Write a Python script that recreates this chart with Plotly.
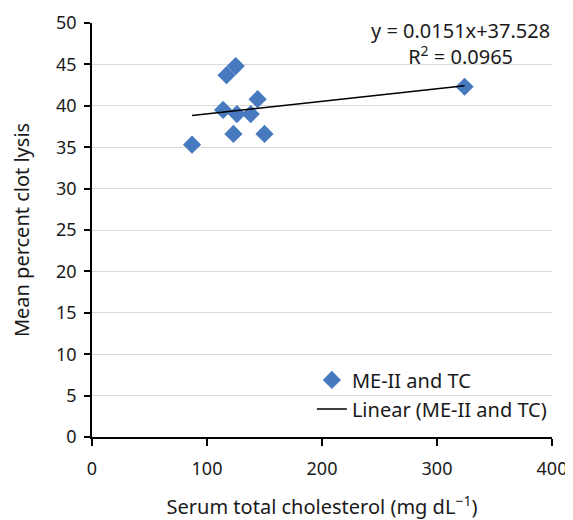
import plotly.graph_objects as go

cholesterol = [87, 117, 125, 114, 126, 138, 144, 123, 150, 324]
clot_lysis = [35.3, 43.7, 44.8, 39.5, 39.0, 39.0, 40.8, 36.6, 36.6, 42.3]
slope = 0.0151
intercept = 37.528
r_squared = 0.0965

series_name = "ME-II and TC"
x_ticks = [0, 100, 200, 300, 400]
y_ticks = list(range(0, 51, 5))

x_min, x_max = min(cholesterol), max(cholesterol)
trend_x = [x_min, x_max]
trend_y = [slope * v + intercept for v in trend_x]

FONT = "Noto Sans, Open Sans, sans-serif"
BLUE = "#4779BF"
TXT = "#1a1a1a"

fig = go.Figure()
fig.add_trace(go.Scatter(
    x=cholesterol, y=clot_lysis, mode="markers", name=series_name,
    marker=dict(symbol="diamond", size=14, color=BLUE, line=dict(width=0)),
))
fig.add_trace(go.Scatter(
    x=trend_x, y=trend_y, mode="lines", name=f"Linear ({series_name})",
    line=dict(color="black", width=1.5),
))

fig.add_annotation(
    x=320, y=47.5, xref="x", yref="y",
    text=f"y = {slope}x+{intercept}<br>R<sup>2</sup> = {r_squared}",
    showarrow=False, align="center",
    font=dict(family=FONT, size=20, color=TXT),
)

# page body has an 8px margin, so the figure is sized/offset to compensate
fig.update_layout(
    width=565, height=512,
    margin=dict(l=84, r=21, t=15, b=83, autoexpand=False),
    paper_bgcolor="white", plot_bgcolor="white",
    font=dict(family=FONT, size=18, color=TXT),
    legend=dict(x=0.478, y=0.185, xanchor="left", yanchor="top",
                bgcolor="rgba(0,0,0,0)", font=dict(size=20),
                tracegroupgap=0),
    showlegend=True,
)
fig.update_xaxes(
    range=[0, 400], tickvals=x_ticks, showgrid=False, zeroline=False,
    showline=True, linecolor="black", linewidth=1.5, automargin=False,
    ticks="outside", ticklen=7, tickcolor="black", tickwidth=1.5,
    ticklabelstandoff=8,
    title=dict(text="Serum total cholesterol (mg dL<sup>\u22121</sup>)", standoff=24,
               font=dict(size=20)),
)
fig.update_yaxes(
    range=[0, 50], tickvals=y_ticks, showgrid=True, gridcolor="#d9d9d9", gridwidth=1,
    zeroline=False, showline=True, linecolor="black", linewidth=1.5, automargin=False,
    ticks="outside", ticklen=6, tickcolor="black", tickwidth=1.5,
    ticklabelstandoff=4,
    title=dict(text="Mean percent clot lysis", standoff=28, font=dict(size=20)),
)

fig.write_html("out.html")
